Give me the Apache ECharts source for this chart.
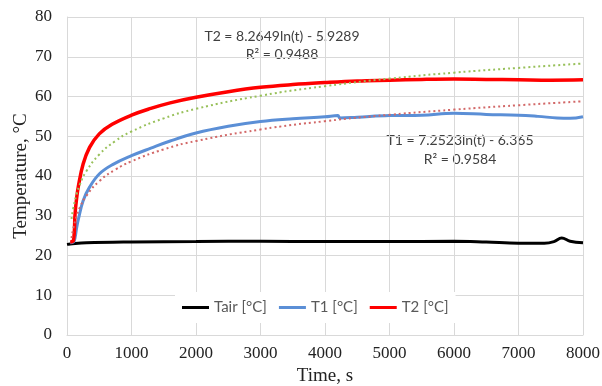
<!DOCTYPE html>
<html>
<head>
<meta charset="utf-8">
<script src="https://cdn.jsdelivr.net/npm/echarts@6/dist/echarts.min.js"></script>
<style>
  html, body { margin: 0; padding: 0; background: #fff; }
  #chart { width: 602px; height: 386px; }
</style>
</head>
<body>
<div id="chart"></div>
<script>
const tairTime = [0, 50, 300, 1000, 2000, 3000, 4000, 5000, 6000, 6500, 7000, 7400, 7550, 7670, 7800, 8000];
const tairTemp = [22.8, 22.9, 23.2, 23.4, 23.5, 23.6, 23.5, 23.5, 23.6, 23.4, 23.1, 23.1, 23.5, 24.4, 23.6, 23.2];

const t1Time = [50, 100, 125, 150, 175, 250, 350, 500, 700, 1000, 1300, 1600, 2000, 2500, 3000, 3500, 4000, 4200, 4230, 4500, 5000, 5500, 6000, 6500, 7000, 7300, 7600, 7800, 8000];
const t1Temp = [23.2, 23.4, 24.5, 27.0, 29.0, 33.8, 37.2, 40.5, 42.8, 45.1, 47.0, 48.8, 50.8, 52.5, 53.7, 54.4, 54.9, 55.2, 54.6, 54.8, 55.2, 55.3, 55.8, 55.5, 55.3, 55.0, 54.6, 54.5, 54.9];

const t2Time = [50, 100, 125, 150, 175, 250, 350, 500, 700, 1000, 1300, 1600, 2000, 2500, 3000, 3500, 4000, 4500, 5000, 5500, 6000, 6500, 7000, 7500, 8000];
const t2Temp = [23.4, 23.8, 30.5, 34.5, 37.3, 43.0, 47.2, 50.6, 53.0, 55.3, 57.0, 58.4, 59.8, 61.2, 62.3, 63.0, 63.5, 63.9, 64.1, 64.3, 64.4, 64.3, 64.2, 64.1, 64.2];

// logarithmic trend lines (dotted)
const trendTime = [70, 100, 150, 200, 300, 500, 750, 1000, 1500, 2000, 3000, 4000, 5000, 6000, 7000, 8000];
const t2Trend = [29.2, 32.1, 35.5, 37.9, 41.2, 45.4, 48.8, 51.2, 54.5, 56.9, 60.2, 62.6, 64.5, 66.0, 67.2, 68.3];
const t1Trend = [24.4, 27.0, 30.0, 32.1, 35.0, 38.7, 41.6, 43.7, 46.7, 48.8, 51.7, 53.8, 55.4, 56.7, 57.8, 58.8];

const xTicks = [0, 8000, 1000];
const yTicks = [0, 80, 10];

const pairs = (xs, ys) => xs.map((x, i) => [x, ys[i]]);

const chart = echarts.init(document.getElementById('chart'));

const serif = 'Liberation Serif';
const sans = 'Lato';

const option = {
  backgroundColor: '#fff',
  animation: false,
  grid: { left: 67, right: 19, top: 17, bottom: 51, outerBoundsMode: 'none' },
  legend: {
    left: 175,
    top: 292,
    padding: [8, 7],
    itemGap: 12,
    itemWidth: 27,
    itemHeight: 3,
    backgroundColor: '#fff',
    textStyle: { fontFamily: sans, fontSize: 15, color: '#595959' },
    data: [
      { name: 'Tair [°C]', icon: 'rect', textStyle: { width: 61 } },
      { name: 'T1 [°C]', icon: 'rect', textStyle: { width: 51 } },
      { name: 'T2 [°C]', icon: 'rect' }
    ]
  },
  xAxis: {
    type: 'value',
    min: xTicks[0],
    max: xTicks[1],
    interval: xTicks[2],
    name: 'Time, s',
    nameLocation: 'middle',
    nameGap: 32,
    nameMoveOverlap: false,
    nameTextStyle: { fontFamily: serif, fontSize: 19, color: '#222' },
    axisLine: { lineStyle: { color: '#d9d9d9' } },
    axisTick: { show: false },
    axisLabel: { fontFamily: serif, fontSize: 17, color: '#222', margin: 10, formatter: v => String(v) },
    splitLine: { show: true, lineStyle: { color: '#d9d9d9', width: 1 } }
  },
  yAxis: {
    type: 'value',
    min: yTicks[0],
    max: yTicks[1],
    interval: yTicks[2],
    name: 'Temperature, °C',
    nameLocation: 'middle',
    nameGap: 36,
    nameMoveOverlap: false,
    nameTextStyle: { fontFamily: serif, fontSize: 19, color: '#222' },
    axisLine: { show: true, lineStyle: { color: '#d9d9d9' } },
    axisTick: { show: false },
    axisLabel: { fontFamily: serif, fontSize: 17, color: '#222', margin: 15, formatter: v => String(v) },
    splitLine: { show: true, lineStyle: { color: '#d9d9d9', width: 1 } }
  },
  graphic: [
    {
      type: 'text', x: 282, y: 27,
      style: { text: 'T2 = 8.2649ln(t) - 5.9289\nR² = 0.9488', align: 'center', lineHeight: 18,
        font: '14px Lato', fill: '#404040' }
    },
    {
      type: 'text', x: 460, y: 131,
      style: { text: 'T1 = 7.2523ln(t) - 6.365\nR² = 0.9584', align: 'center', lineHeight: 19,
        font: '14px Lato', fill: '#404040' }
    }
  ],
  series: [
    {
      name: 'Tair [°C]', type: 'line', showSymbol: false, smooth: 0.4,
      lineStyle: { color: '#000', width: 3 }, itemStyle: { color: '#000' },
      data: pairs(tairTime, tairTemp)
    },
    {
      name: 'T1 [°C]', type: 'line', showSymbol: false, smooth: 0.4,
      lineStyle: { color: '#5b8fd6', width: 3 }, itemStyle: { color: '#5b8fd6' },
      data: pairs(t1Time, t1Temp)
    },
    {
      name: 'T2 [°C]', type: 'line', showSymbol: false, smooth: 0.4,
      lineStyle: { color: '#ff0000', width: 3.5 }, itemStyle: { color: '#ff0000' },
      data: pairs(t2Time, t2Temp)
    },
    {
      name: 'T1 trend', type: 'line', showSymbol: false, smooth: true,
      lineStyle: { color: '#d26868', width: 2, type: [2, 3] },
      data: pairs(trendTime, t1Trend)
    },
    {
      name: 'T2 trend', type: 'line', showSymbol: false, smooth: true,
      lineStyle: { color: '#98c05a', width: 2, type: [2, 3] },
      data: pairs(trendTime, t2Trend)
    }
  ]
};

chart.setOption(option);
</script>
</body>
</html>
